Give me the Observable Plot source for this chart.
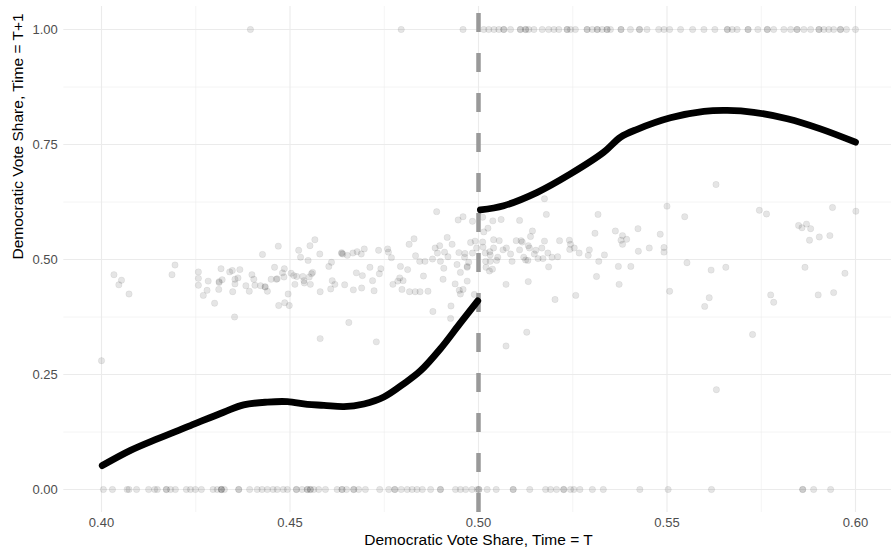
<!DOCTYPE html>
<html><head><meta charset="utf-8">
<script src="https://cdn.jsdelivr.net/npm/d3@7"></script>
<script src="https://cdn.jsdelivr.net/npm/@observablehq/plot@0.6"></script>
<style>body{margin:0;background:#fff}</style>
</head><body><div id="chart"></div>
<script>
// Scatter: observations with vote share at T+1 strictly between 0 and 1
const midX = [0.4000,0.4033,0.4053,0.4046,0.4073,0.4195,0.4187,0.4257,0.4257,0.4257,0.4283,0.4280,0.4270,0.4300,0.4317,0.4312,0.4312,0.4311,0.4320,0.4340,0.4347,0.4354,0.4362,0.4354,0.4348,0.4353,0.4367,0.4383,0.4392,0.4399,0.4404,0.4407,0.4422,0.4434,0.4434,0.4440,0.4427,0.4469,0.4459,0.4450,0.4464,0.4466,0.4470,
0.4485,0.4480,0.4503,0.4484,0.4510,0.4518,0.4534,0.4537,0.4557,0.4560,0.4551,0.4554,0.4538,0.4513,0.4495,0.4486,0.4498,0.4566,0.4553,0.4523,0.4528,0.4548,0.4579,0.4580,0.4580,0.4603,0.4610,0.4612,0.4619,0.4608,0.4637,0.4637,0.4640,0.4652,0.4667,0.4678,0.4689,0.4697,0.4676,0.4692,0.4668,0.4690,0.4656,0.4645,0.4712,0.4719,0.4723,0.4737,0.4741,0.4735,0.4729,0.4759,0.4761,0.4769,0.4773,0.4786,0.4793,0.4791,0.4800,0.4797,0.4812,0.4817,0.4816,0.4829,0.4833,0.4844,0.4858,0.4854,0.4832,0.4845,0.4866,0.4879,0.4878,0.4885,0.4897,0.4891,0.4899,0.4908,0.4910,0.4906,0.4917,0.4930,0.4919,0.4938,0.4927,0.4926,0.4943,0.4948,0.4952,0.4963,0.4970,0.4970,0.4970,0.4949,0.4959,0.4952,0.4979,0.4984,0.4989,0.4964,0.4974,0.4889,0.4946,0.4959,0.4984,0.4995,0.4991,
0.5175,0.5180,0.5109,0.5060,0.5038,0.5011,0.5025,0.5014,0.5143,0.5138,0.5317,0.5309,0.5363,0.5382,0.5378,0.5393,0.5382,0.5423,0.5482,0.5500,0.5547,0.5492,0.5492,0.5453,0.5424,0.5553,0.5404,0.5371,0.5373,0.5334,0.5319,0.5313,0.5294,0.5291,0.5267,0.5241,0.5244,0.5254,0.5242,0.5258,0.5203,0.5215,0.5175,0.5184,0.5186,0.5195,0.5210,0.5171,0.5158,0.5148,0.5132,0.5135,0.5113,0.5116,0.5100,0.5109,0.5120,0.5125,0.5131,0.5089,0.5085,0.5074,0.5065,0.5055,0.5040,0.5051,0.5048,0.5031,0.5018,0.5012,0.5019,0.5031,0.5020,0.5029,0.5037,0.5073,0.5132,0.5128,0.5073,0.5507,0.5168,0.5152,0.5011,0.5040,0.5030,
0.5630,0.5745,0.5764,0.5939,0.6001,0.5849,0.5858,0.5870,0.5881,0.5878,0.5904,0.5932,0.5617,0.5656,0.5866,0.5972,0.5612,0.5600,0.5775,0.5783,0.5901,0.5942,0.5727,0.5631];
const midY = [0.280,0.467,0.455,0.445,0.425,0.488,0.467,0.473,0.459,0.444,0.453,0.433,0.422,0.405,0.480,0.450,0.452,0.435,0.456,0.473,0.476,0.457,0.460,0.447,0.430,0.375,0.478,0.443,0.431,0.467,0.457,0.444,0.443,0.440,0.441,0.431,0.511,0.529,0.483,0.457,0.457,0.458,0.400,
0.480,0.471,0.470,0.462,0.465,0.463,0.463,0.454,0.469,0.472,0.462,0.446,0.449,0.446,0.425,0.406,0.400,0.543,0.530,0.520,0.505,0.498,0.512,0.430,0.328,0.485,0.494,0.454,0.446,0.436,0.513,0.515,0.512,0.509,0.514,0.517,0.512,0.523,0.471,0.465,0.434,0.438,0.363,0.445,0.483,0.454,0.432,0.469,0.480,0.520,0.321,0.523,0.516,0.504,0.446,0.453,0.485,0.460,0.454,0.435,0.478,0.430,0.533,0.545,0.508,0.496,0.496,0.464,0.430,0.430,0.431,0.387,0.501,0.525,0.530,0.514,0.496,0.481,0.516,0.457,0.548,0.533,0.506,0.447,0.399,0.372,0.489,0.515,0.472,0.505,0.483,0.485,0.453,0.433,0.435,0.425,0.537,0.514,0.424,0.513,0.494,0.604,0.586,0.593,0.583,0.525,0.540,
0.632,0.598,0.585,0.587,0.584,0.592,0.568,0.560,0.562,0.550,0.598,0.557,0.562,0.552,0.542,0.544,0.533,0.567,0.555,0.616,0.593,0.526,0.516,0.525,0.518,0.493,0.485,0.485,0.446,0.510,0.496,0.463,0.521,0.509,0.514,0.542,0.533,0.525,0.522,0.422,0.413,0.541,0.540,0.514,0.484,0.505,0.506,0.502,0.502,0.512,0.530,0.525,0.541,0.538,0.541,0.521,0.505,0.499,0.498,0.496,0.512,0.525,0.521,0.541,0.543,0.505,0.498,0.510,0.514,0.527,0.496,0.496,0.483,0.475,0.479,0.446,0.452,0.342,0.312,0.431,0.525,0.520,0.538,0.525,0.517,
0.663,0.607,0.599,0.613,0.605,0.574,0.569,0.577,0.567,0.542,0.549,0.552,0.477,0.483,0.483,0.470,0.417,0.398,0.423,0.407,0.423,0.428,0.337,0.217];

// Observations with vote share at T+1 equal to 0 (lost) and 1 (unopposed)
const zeroX = [0.4005,0.4029,0.4068,0.4073,0.4093,0.4125,0.4141,0.4148,0.4172,0.4172,0.4183,0.4196,0.4225,0.4236,0.4249,0.4265,0.4296,0.4307,0.4318,0.4318,0.4318,0.4326,0.4364,0.4364,0.4393,0.4413,0.4426,0.4440,0.4455,0.4466,0.4482,0.4493,0.4517,0.4517,0.4532,0.4546,0.4546,0.4554,0.4554,0.4563,0.4576,0.4594,0.4625,0.4638,0.4638,0.4650,0.4669,0.4669,0.4682,0.4700,0.4738,0.4762,0.4778,0.4778,0.4795,0.4811,0.4824,0.4837,0.4851,0.4873,0.4899,0.4899,0.4939,0.4952,0.4966,0.4983,0.4997,
0.5001,0.5001,0.5023,0.5047,0.5092,0.5092,0.5136,0.5178,0.5191,0.5207,0.5226,0.5226,0.5244,0.5253,0.5269,0.5302,0.5331,0.5428,0.5503,0.5618,0.5860,0.5860,0.5889,0.5934];
const oneX = [0.4395,0.4795,0.4959,
0.5014,0.5027,0.5041,0.5054,0.5067,0.5067,0.5085,0.5111,0.5111,0.5125,0.5125,0.5133,0.5147,0.5169,0.5186,0.5200,0.5213,0.5235,0.5235,0.5244,0.5257,0.5288,0.5288,0.5302,0.5315,0.5315,0.5328,0.5341,0.5341,0.5350,0.5378,0.5378,0.5403,0.5427,0.5427,0.5447,0.5478,0.5492,0.5507,0.5536,0.5568,0.5598,0.5627,0.5660,0.5660,0.5673,0.5686,0.5715,0.5715,0.5741,0.5766,0.5766,0.5783,0.5810,0.5828,0.5845,0.5845,0.5863,0.5881,0.5903,0.5903,0.5916,0.5929,0.5942,0.5960,0.5960,0.5976,0.6000];

// Loess fits on each side of the 0.5 cutoff
const leftFitX = [0.4002,0.4077,0.4148,0.4236,0.4324,0.4377,0.4440,0.4493,0.4546,0.4590,0.4643,0.4696,0.4749,0.4802,0.4846,0.4899,0.4950,0.4998];
const leftFitY = [0.052,0.085,0.110,0.139,0.168,0.184,0.190,0.191,0.185,0.183,0.180,0.186,0.201,0.230,0.258,0.306,0.360,0.410];
const rightFitX = [0.5005,0.5067,0.5156,0.5244,0.5332,0.5377,0.5421,0.5509,0.5598,0.5660,0.5730,0.5819,0.5907,0.6000];
const rightFitY = [0.608,0.617,0.646,0.686,0.733,0.766,0.783,0.808,0.822,0.824,0.820,0.806,0.784,0.755];

const cutoff = 0.5;
const xDomain = [0.39, 0.61];
const yDomain = [-0.05, 1.05];
const xMajor = [0.40, 0.45, 0.50, 0.55, 0.60];
const xMinor = [0.425, 0.475, 0.525, 0.575];
const yMajor = [0, 0.25, 0.50, 0.75, 1.00];
const yMinor = [0.125, 0.375, 0.625, 0.875];
const xTitle = "Democratic Vote Share, Time = T";
const yTitle = "Democratic Vote Share, Time = T+1";

const points = [
  ...midX.map((x, i) => ({x, y: midY[i]})),
  ...zeroX.map(x => ({x, y: 0})),
  ...oneX.map(x => ({x, y: 1}))
];
const leftFit = leftFitX.map((x, i) => ({x, y: leftFitY[i]}));
const rightFit = rightFitX.map((x, i) => ({x, y: rightFitY[i]}));

const font = "'Liberation Sans', Arial, Helvetica, sans-serif";
const chart = Plot.plot({
  width: 891,
  height: 555,
  marginLeft: 63.3,
  marginRight: -1.7,
  marginTop: 6,
  marginBottom: 43,
  style: {fontFamily: font, background: "#fff", overflow: "visible"},
  x: {domain: xDomain},
  y: {domain: yDomain},
  marks: [
    Plot.ruleX(xMinor, {stroke: "#EBEBEB", strokeWidth: 0.55}),
    Plot.ruleY(yMinor, {stroke: "#EBEBEB", strokeWidth: 0.55}),
    Plot.ruleX(xMajor, {stroke: "#EBEBEB", strokeWidth: 1.1}),
    Plot.ruleY(yMajor, {stroke: "#EBEBEB", strokeWidth: 1.1}),
    Plot.axisX(xMajor, {tickSize: 0, tickPadding: 5, fontSize: 13, color: "#4D4D4D", tickFormat: d => d.toFixed(2), label: null}),
    Plot.axisY(yMajor, {tickSize: 0, tickPadding: 6, fontSize: 13, color: "#4D4D4D", tickFormat: d => d.toFixed(2), label: null}),
    Plot.dot(points, {x: "x", y: "y", r: 3.2, fill: "#000", fillOpacity: 0.1, stroke: "#000", strokeOpacity: 0.08, strokeWidth: 0.7}),
    Plot.ruleX([cutoff], {y1: () => yDomain[0], y2: () => yDomain[1], stroke: "#999999", strokeWidth: 4.5, strokeDasharray: "19,21"}),
    Plot.line(leftFit, {x: "x", y: "y", stroke: "#000", strokeWidth: 6.8, curve: "catmull-rom"}),
    Plot.line(rightFit, {x: "x", y: "y", stroke: "#000", strokeWidth: 6.8, curve: "catmull-rom"}),
    Plot.text([xTitle], {text: d => d, frameAnchor: "bottom", dy: 32, fontSize: 15.5, fill: "#000"}),
    Plot.text([yTitle], {text: d => d, frameAnchor: "left", dx: -46, rotate: -90, fontSize: 15.5, fill: "#000"})
  ]
});
document.getElementById("chart").appendChild(chart);
</script></body></html>
